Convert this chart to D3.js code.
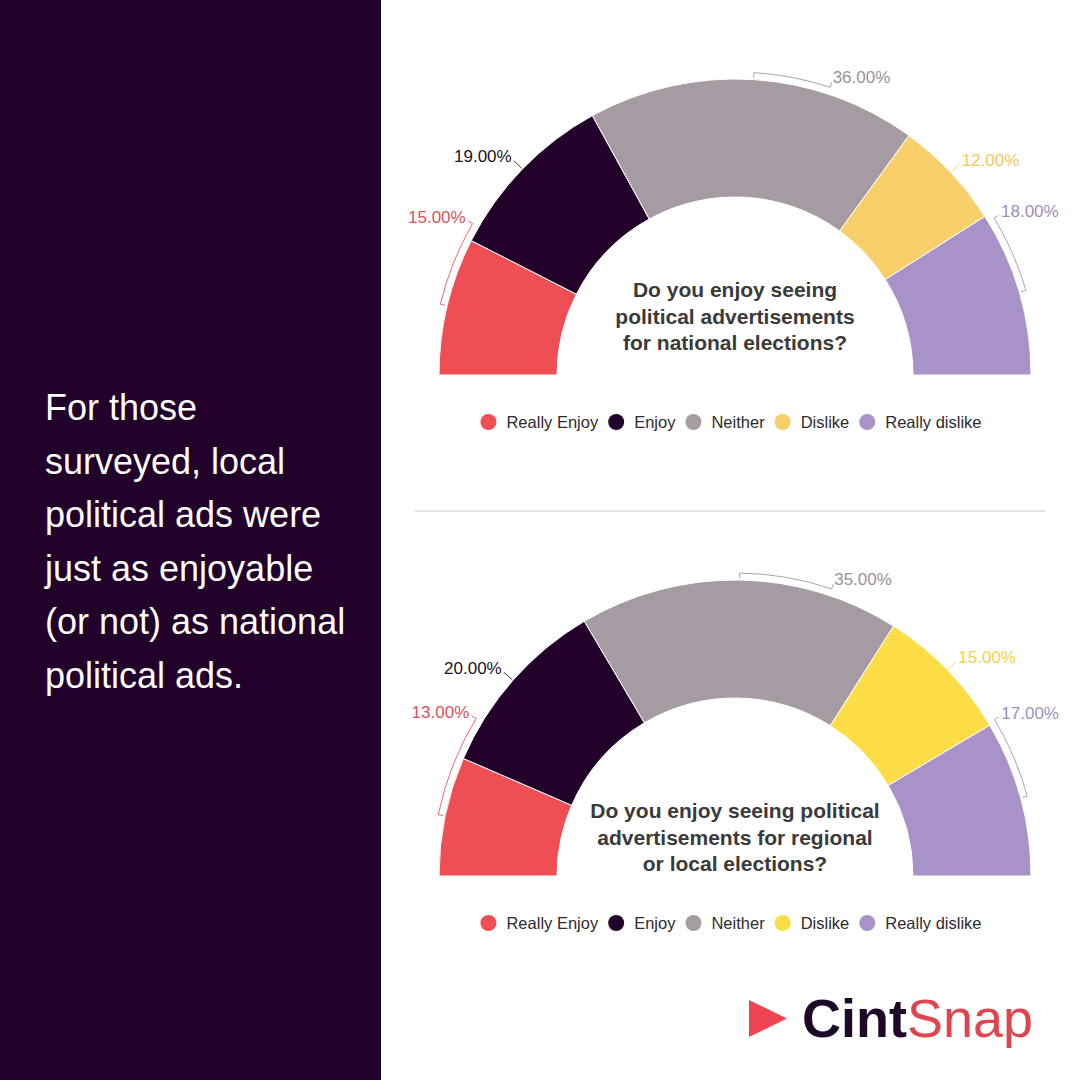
<!DOCTYPE html>
<html><head><meta charset="utf-8">
<script src="https://cdn.jsdelivr.net/npm/d3@7"></script>
<style>html,body{margin:0;padding:0;background:#fff;}svg{display:block;}</style>
</head><body>
<svg id="c" width="1080" height="1080"></svg>
<script>
// ---- data ----
const categories = ["Really Enjoy", "Enjoy", "Neither", "Dislike", "Really dislike"];
const nationalValues = [15, 19, 36, 12, 18];
const localValues = [13, 20, 35, 15, 17];
const nationalTitle = ["Do you enjoy seeing", "political advertisements", "for national elections?"];
const localTitle = ["Do you enjoy seeing political", "advertisements for regional", "or local elections?"];
const sideText = ["For those", "surveyed, local", "political ads were", "just as enjoyable", "(or not) as national", "political ads."];

// ---- styles / layout ----
const nationalColors = ["#f04e55", "#22002a", "#a69ba2", "#f8cf6a", "#a992c7"];
const localColors = ["#f04e55", "#22002a", "#a69ba2", "#fcdd46", "#a992c7"];
const nationalLabelColors = ["#e0505a", "#1b1320", "#9b9297", "#f2c65e", "#9d8fbc"];
const localLabelColors = ["#e0505a", "#1b1320", "#9b9297", "#f5d23f", "#9d8fbc"];
const nationalShift = [16.5, 0, 14.7, 0, -15];
const localShift = [19.6, 0, 17.7, 0, -15.8];

const svg = d3.select("#c");
svg.append("rect").attr("x", 0).attr("y", 0).attr("width", 381).attr("height", 1080).attr("fill", "#21002a");

svg.append("g").selectAll("text").data(sideText).join("text")
  .attr("x", 45).attr("y", (d, i) => 420 + i * 53.5)
  .attr("fill", "#ffffff").attr("font-family", "Liberation Sans, Arial, sans-serif")
  .attr("font-size", 36).text(d => d);

svg.append("line").attr("x1", 415).attr("x2", 1045).attr("y1", 511).attr("y2", 511)
  .attr("stroke", "#e3e3e3").attr("stroke-width", 2);

function drawChart(cy, values, colors, labelColors, shifts, title, titleBase, legendY) {
  const cx = 735, R = 296, r0 = 178;
  const g = svg.append("g").attr("transform", `translate(${cx},${cy})`);
  const pie = d3.pie().sort(null).startAngle(-Math.PI / 2).endAngle(Math.PI / 2);
  const arcs = pie(values);
  const arc = d3.arc().innerRadius(r0).outerRadius(R);
  g.selectAll("path.slice").data(arcs).join("path").attr("class", "slice")
    .attr("d", arc).attr("fill", (d, i) => colors[i])
    .attr("stroke", "#ffffff").attr("stroke-width", 1);

  const pt = (a, rr) => [rr * Math.sin(a), -rr * Math.cos(a)];
  arcs.forEach((d, i) => {
    const m = (d.startAngle + d.endAngle) / 2;
    const a = m + shifts[i] * Math.PI / 180;
    const col = labelColors[i];
    const p = d3.path();
    if (shifts[i] !== 0) {
      const s0 = pt(m, R + 2), s1 = pt(m, R + 7);
      p.moveTo(s0[0], s0[1]); p.lineTo(s1[0], s1[1]);
      p.arc(0, 0, R + 7, m - Math.PI / 2, a - Math.PI / 2, a < m);
      const e1 = pt(a, R + 12);
      p.lineTo(e1[0], e1[1]);
    } else {
      const s0 = pt(m, R + 1), e1 = pt(m, R + 12);
      p.moveTo(s0[0], s0[1]); p.lineTo(e1[0], e1[1]);
    }
    g.append("path").attr("d", p.toString()).attr("fill", "none")
      .attr("stroke", col).attr("stroke-width", 1).attr("opacity", 0.85);
    const lp = pt(a, R + 15);
    g.append("text").attr("x", lp[0]).attr("y", lp[1] - 2)
      .attr("text-anchor", Math.sin(a) < 0 ? "end" : "start")
      .attr("dominant-baseline", "central")
      .attr("font-family", "Liberation Sans, Arial, sans-serif").attr("font-size", 17)
      .attr("fill", col).text(d.data.toFixed(2) + "%");
  });

  svg.append("g").selectAll("text").data(title).join("text")
    .attr("x", cx).attr("y", (d, i) => titleBase + i * 26.5)
    .attr("text-anchor", "middle").attr("font-family", "Liberation Sans, Arial, sans-serif")
    .attr("font-weight", "bold").attr("font-size", 21).attr("fill", "#3a3a3a").text(d => d);

  // legend
  const lg = svg.append("g");
  const items = lg.selectAll("g").data(categories).join("g");
  items.append("circle").attr("r", 8).attr("cx", 0).attr("cy", 0).attr("fill", (d, i) => colors[i]);
  items.append("text").attr("x", 18).attr("y", 0).attr("dominant-baseline", "central")
    .attr("font-family", "Liberation Sans, Arial, sans-serif").attr("font-size", 16.5)
    .attr("fill", "#2e2a30").text(d => d);
  let x = 0; const xs = [];
  items.each(function (d, i) {
    xs.push(x);
    const w = d3.select(this).select("text").node().getComputedTextLength();
    x += 18 + w + 18;
  });
  const total = x - 18 + 8;
  const start = 731 - total / 2 + 8;
  items.attr("transform", (d, i) => `translate(${start + xs[i]},${legendY})`);
}

drawChart(375, nationalValues, nationalColors, nationalLabelColors, nationalShift, nationalTitle, 297, 422);
drawChart(876, localValues, localColors, localLabelColors, localShift, localTitle, 818, 923);

// logo
svg.append("path").attr("d", d3.line()([[749, 1000], [749, 1037], [787, 1018.5]]) + "Z").attr("fill", "#ef4452");
const logo = svg.append("text").attr("x", 802).attr("y", 1037)
  .attr("font-family", "Liberation Sans, Arial, sans-serif").attr("font-size", 54);
logo.append("tspan").attr("font-weight", "bold").attr("fill", "#1e0a28").text("Cint");
logo.append("tspan").attr("fill", "#e0444f").text("Snap");
</script>
</body></html>
